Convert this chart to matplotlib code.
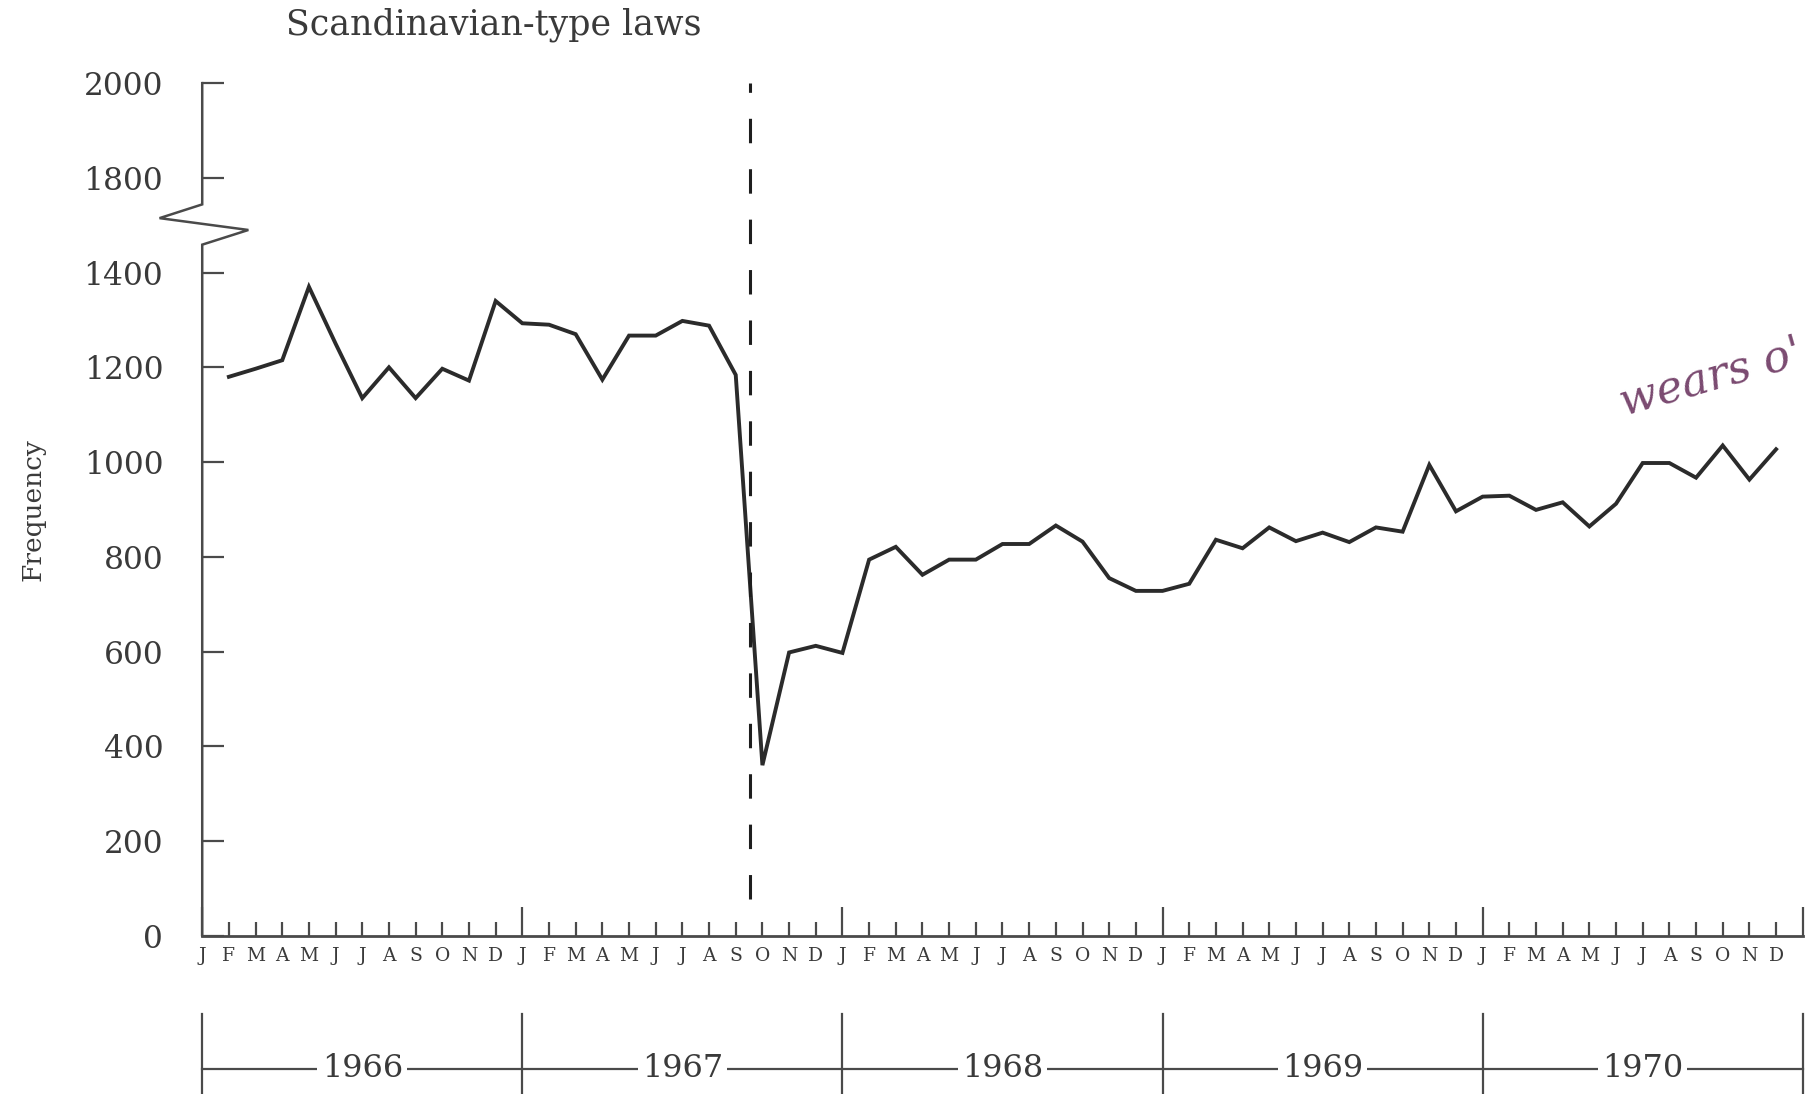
import numpy as np
import matplotlib.pyplot as plt

plt.rcParams['font.family'] = ['DejaVu Serif', 'Liberation Serif']

# monthly frequencies, Feb 1966 .. Dec 1970 (month index 1..59)
month_idx = np.arange(1, 60)
freq = [1180, 1197, 1215, 1370, 1250, 1135, 1200, 1135, 1197, 1172, 1340,
        1293, 1290, 1270, 1174, 1267, 1267, 1298, 1288, 1184,
        360, 598, 612, 597, 794, 821, 762, 794, 794, 827, 827, 866, 832,
        755, 728, 728, 743, 836, 818, 862, 833, 851, 831, 862, 853,
        994, 896, 927, 929, 899, 915, 864, 912, 998, 998, 967, 1035, 963, 1027]

months = list("JFMAMJJASOND")
years = ["1966", "1967", "1968", "1969", "1970"]
law_change = 20.55   # Sept 1967

# broken y axis: 1800 and 2000 sit one step above 1400
ytick_pos = [0, 200, 400, 600, 800, 1000, 1200, 1400, 1600, 1800]
ytick_labels = ["0", "200", "400", "600", "800", "1000", "1200", "1400", "1800", "2000"]

line_c = '#2b2b2b'
axis_c = '#4a4a4a'
text_c = '#3a3a3a'

fig = plt.figure(figsize=(18.12, 10.94), dpi=100)
ax = fig.add_axes([0.1116, 0.1447, 0.8833, 0.7793])
ax.set_xlim(0, 60)
ax.set_ylim(0, 1800)

for s in ['top', 'right', 'left']:
    ax.spines[s].set_visible(False)
ax.spines['bottom'].set_color(axis_c)
ax.spines['bottom'].set_linewidth(2)

# left axis with the zigzag break
ax.plot([0, 0, -1.6, 1.73, 0, 0], [1800, 1544, 1515, 1490, 1459, 0],
        color=axis_c, lw=1.8, clip_on=False, solid_joinstyle='miter')

ax.plot(month_idx, freq, color=line_c, lw=2.8, solid_joinstyle='miter')
ax.plot([law_change, law_change], [78, 1800], color='#1e1e1e', lw=2.2,
        linestyle=(0, (8, 8.5)))

ax.set_yticks(ytick_pos, ytick_labels)
ax.tick_params(axis='y', direction='in', length=16, width=1.6, pad=28,
               labelsize=22.5, color=axis_c, labelcolor=text_c)

year_ticks = list(range(0, 61, 12))
ax.set_xticks(year_ticks, ['J'] * 5 + [''])
minor_pos = [m for m in range(60) if m % 12 != 0]
ax.set_xticks(minor_pos, [months[m % 12] for m in minor_pos], minor=True)
ax.tick_params(axis='x', which='major', direction='in', length=21, width=1.6,
               pad=8, labelsize=13.5, color=axis_c, labelcolor=text_c)
ax.tick_params(axis='x', which='minor', direction='in', length=10, width=1.6,
               pad=8, labelsize=13.5, color=axis_c, labelcolor=text_c)

# year bracket below the month letters
trans = ax.get_xaxis_transform()
for b in year_ticks:
    ax.plot([b, b], [-0.092, -0.2], transform=trans, color=axis_c, lw=1.6,
            clip_on=False)
ax.plot([0, 60], [-0.156, -0.156], transform=trans, color=axis_c, lw=1.6,
        clip_on=False)
for k, yr in enumerate(years):
    ax.text(6 + 12 * k, -0.156, yr, transform=trans, ha='center', va='center',
            fontsize=23, color=text_c,
            bbox=dict(facecolor='white', edgecolor='none', pad=3))

ax.text(-0.106, 0.5, "Frequency", transform=ax.transAxes, rotation=90,
        ha='center', va='center', fontsize=19, color=text_c)
fig.text(0.158, 0.977, "Scandinavian-type laws", ha='left', va='center',
         fontsize=25, color=text_c)

fig.text(0.891, 0.655, "wears o'", ha='left', va='center', fontsize=32,
         color='#7a4a70', style='italic', rotation=16)

fig.savefig('out.png', dpi=100)
